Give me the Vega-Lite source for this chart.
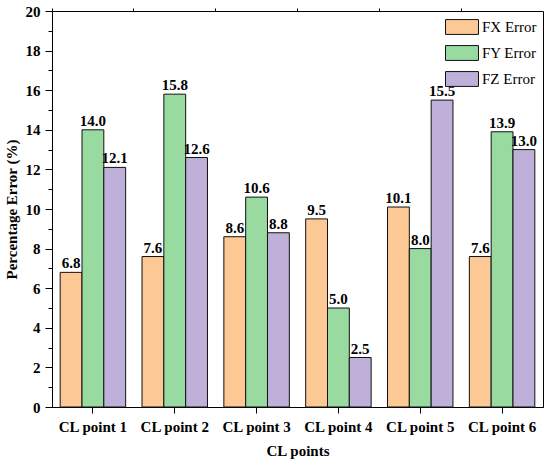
{
  "$schema": "https://vega.github.io/schema/vega-lite/v6.json",
  "width": 491,
  "height": 396,
  "autosize": {"type": "none"},
  "padding": {"left": 52, "top": 11, "right": 7, "bottom": 59},
  "config": {
    "view": {"stroke": "black", "strokeWidth": 1},
    "font": "Liberation Serif",
    "axis": {
      "domainColor": "black",
      "tickColor": "black",
      "labelColor": "black",
      "titleColor": "black",
      "labelFont": "Liberation Serif",
      "titleFont": "Liberation Serif",
      "labelFontSize": 15,
      "titleFontSize": 15,
      "labelFontWeight": "bold",
      "titleFontWeight": "bold",
      "grid": false
    }
  },
  "data": {
    "values": [
      {"point": "CL point 1", "comp": "FX Error", "value": 6.8},
      {"point": "CL point 1", "comp": "FY Error", "value": 14.0},
      {"point": "CL point 1", "comp": "FZ Error", "value": 12.1},
      {"point": "CL point 2", "comp": "FX Error", "value": 7.6},
      {"point": "CL point 2", "comp": "FY Error", "value": 15.8},
      {"point": "CL point 2", "comp": "FZ Error", "value": 12.6},
      {"point": "CL point 3", "comp": "FX Error", "value": 8.6},
      {"point": "CL point 3", "comp": "FY Error", "value": 10.6},
      {"point": "CL point 3", "comp": "FZ Error", "value": 8.8},
      {"point": "CL point 4", "comp": "FX Error", "value": 9.5},
      {"point": "CL point 4", "comp": "FY Error", "value": 5.0},
      {"point": "CL point 4", "comp": "FZ Error", "value": 2.5},
      {"point": "CL point 5", "comp": "FX Error", "value": 10.1},
      {"point": "CL point 5", "comp": "FY Error", "value": 8.0},
      {"point": "CL point 5", "comp": "FZ Error", "value": 15.5},
      {"point": "CL point 6", "comp": "FX Error", "value": 7.6},
      {"point": "CL point 6", "comp": "FY Error", "value": 13.9},
      {"point": "CL point 6", "comp": "FZ Error", "value": 13.0}
    ]
  },
  "resolve": {"axis": {"x": "independent", "y": "independent"}},
  "layer": [
    {
      "mark": {"type": "bar", "stroke": "#111111", "strokeWidth": 1},
      "encoding": {
        "x": {
          "field": "point",
          "type": "nominal",
          "sort": null,
          "scale": {"paddingInner": 0.2, "paddingOuter": 0.1},
          "axis": {"title": "CL points", "labelAngle": 0, "tickSize": 6, "labelPadding": 6, "titlePadding": 9}
        },
        "xOffset": {"field": "comp", "type": "nominal", "sort": ["FX Error", "FY Error", "FZ Error"]},
        "y": {
          "field": "value",
          "type": "quantitative",
          "scale": {"domain": [0, 20], "nice": false},
          "axis": {"values": [0, 2, 4, 6, 8, 10, 12, 14, 16, 18, 20], "title": "Percentage Error (%)", "tickSize": 7, "labelPadding": 5, "titlePadding": 6}
        },
        "color": {
          "field": "comp",
          "type": "nominal",
          "scale": {"domain": ["FX Error", "FY Error", "FZ Error"], "range": ["#FCC893", "#98DAA0", "#BEB0D8"]},
          "legend": {
            "title": null,
            "orient": "none",
            "legendX": 401,
            "legendY": 7,
            "padding": 0,
            "symbolType": "M-2,-0.9H2V0.9H-2Z",
            "symbolSize": 272,
            "symbolStrokeColor": "#111111",
            "symbolStrokeWidth": 1,
            "symbolOpacity": 1,
            "labelFont": "Liberation Serif",
            "labelFontSize": 15,
            "labelColor": "black",
            "labelOffset": 11,
            "rowPadding": 6
          }
        }
      }
    },
    {
      "mark": {"type": "text", "baseline": "bottom", "dy": -1, "fontSize": 15, "fontWeight": "bold", "font": "Liberation Serif", "color": "black"},
      "encoding": {
        "x": {
          "field": "point",
          "type": "nominal",
          "sort": null,
          "axis": {"bandPosition": -0.125, "labels": false, "domain": false, "tickSize": 3, "title": null}
        },
        "xOffset": {"field": "comp", "type": "nominal", "sort": ["FX Error", "FY Error", "FZ Error"]},
        "y": {
          "field": "value",
          "type": "quantitative",
          "axis": {"orient": "left", "values": [1, 3, 5, 7, 9, 11, 13, 15, 17, 19], "labels": false, "domain": false, "tickSize": 4, "title": null}
        },
        "text": {"field": "value", "type": "quantitative", "format": ".1f"}
      }
    }
  ]
}
